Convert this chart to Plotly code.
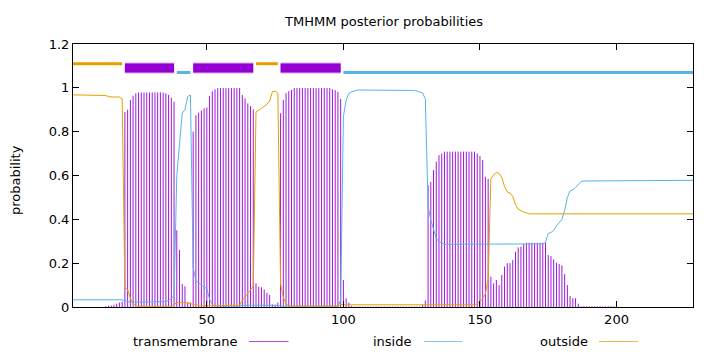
import plotly.graph_objects as go

# ---------------- data (per residue, 1..228) ----------------
transmembrane = [
    0, 0, 0, 0, 0, 0, 0, 0, 0, 0,                                        # 1-10
    0, 0, 0.003, 0.005, 0.007, 0.01, 0.015, 0.02, 0.025, 0.89,           # 11-20
    0.90, 0.944, 0.964, 0.975, 0.979, 0.979, 0.979, 0.979, 0.979, 0.979,  # 21-30
    0.979, 0.979, 0.979, 0.978, 0.975, 0.968, 0.955, 0.937, 0.35, 0.26,  # 31-40
    0.105, 0.095, 0.02, 0.02, 0.80, 0.875, 0.887, 0.897, 0.907, 0.91,   # 41-50
    0.963, 0.984, 0.993, 0.999, 0.999, 0.999, 0.999, 0.999, 0.999, 0.999,  # 51-60
    0.999, 0.999, 0.967, 0.952, 0.929, 0.917, 0.902, 0.108, 0.093, 0.09,  # 61-70
    0.08, 0.065, 0.055, 0.012, 0.01, 0.02, 0.884, 0.944, 0.976, 0.985,   # 71-80
    0.99, 0.999, 0.999, 0.999, 0.999, 0.999, 0.999, 0.999, 0.999, 0.999,  # 81-90
    0.999, 0.999, 0.999, 0.999, 0.999, 0.993, 0.99, 0.982, 0.949, 0.123,  # 91-100
    0.04, 0.02, 0.005, 0.002, 0.002, 0.002, 0.002, 0.002, 0.002, 0.002,  # 101-110
    0.002, 0.002, 0.002, 0.002, 0.002, 0.002, 0.002, 0.002, 0.002, 0.002,  # 111-120
    0.002, 0.002, 0.002, 0.002, 0.002, 0.002, 0.002, 0.002, 0.01, 0.03,  # 121-130
    0.556, 0.57, 0.625, 0.663, 0.693, 0.70, 0.709, 0.709, 0.709, 0.709,  # 131-140
    0.709, 0.709, 0.709, 0.709, 0.709, 0.709, 0.709, 0.709, 0.70, 0.689,  # 141-150
    0.67, 0.594, 0.585, 0.138, 0.108, 0.123, 0.10, 0.146, 0.184, 0.20,  # 151-160
    0.20, 0.214, 0.252, 0.272, 0.275, 0.287, 0.293, 0.293, 0.293, 0.293,  # 161-170
    0.293, 0.293, 0.293, 0.293, 0.237, 0.232, 0.217, 0.202, 0.196, 0.19,  # 171-180
    0.15, 0.10, 0.05, 0.04, 0.04, 0.015, 0.003, 0.003, 0.003, 0.003,    # 181-190
    0.003, 0.003, 0.003, 0.003, 0.003, 0.003, 0.003, 0.003, 0.003, 0.008,  # 191-200
    0, 0, 0, 0, 0, 0, 0, 0, 0, 0,                                        # 201-210
    0, 0, 0, 0, 0, 0, 0, 0, 0, 0,                                        # 211-220
    0, 0, 0, 0, 0, 0, 0, 0,                                              # 221-228
]

inside = [
    0.033, 0.033, 0.033, 0.033, 0.033, 0.033, 0.033, 0.033, 0.033, 0.033,  # 1-10
    0.033, 0.033, 0.033, 0.033, 0.033, 0.033, 0.033, 0.033, 0.033, 0.028,  # 11-20
    0.024, 0.022, 0.022, 0.022, 0.022, 0.022, 0.022, 0.022, 0.022, 0.022,  # 21-30
    0.022, 0.022, 0.022, 0.022, 0.025, 0.03, 0.04, 0.05, 0.60, 0.73,     # 31-40
    0.885, 0.90, 0.96, 0.967, 0.18, 0.12, 0.11, 0.10, 0.09, 0.085,       # 41-50
    0.035, 0.012, 0.006, 0.004, 0.004, 0.004, 0.004, 0.004, 0.004, 0.004,  # 51-60
    0.004, 0.004, 0.008, 0.008, 0.008, 0.008, 0.008, 0.008, 0.008, 0.008,  # 61-70
    0.008, 0.008, 0.008, 0.008, 0.008, 0.008, 0.004, 0.004, 0.004, 0.004,  # 71-80
    0.004, 0.004, 0.004, 0.004, 0.004, 0.004, 0.004, 0.004, 0.004, 0.004,  # 81-90
    0.004, 0.004, 0.004, 0.004, 0.004, 0.004, 0.004, 0.004, 0.03, 0.868,  # 91-100
    0.944, 0.975, 0.982, 0.987, 0.99, 0.99, 0.99, 0.99, 0.99, 0.99,      # 101-110
    0.99, 0.99, 0.99, 0.99, 0.99, 0.99, 0.99, 0.99, 0.99, 0.99,          # 111-120
    0.99, 0.99, 0.99, 0.99, 0.99, 0.988, 0.985, 0.982, 0.976, 0.95,      # 121-130
    0.458, 0.397, 0.351, 0.313, 0.298, 0.29, 0.286, 0.286, 0.286, 0.286,  # 131-140
    0.286, 0.286, 0.286, 0.286, 0.286, 0.286, 0.286, 0.286, 0.286, 0.286,  # 141-150
    0.286, 0.286, 0.286, 0.286, 0.286, 0.286, 0.286, 0.286, 0.286, 0.286,  # 151-160
    0.286, 0.286, 0.286, 0.286, 0.286, 0.286, 0.286, 0.286, 0.286, 0.286,  # 161-170
    0.286, 0.286, 0.288, 0.295, 0.335, 0.34, 0.35, 0.37, 0.385, 0.40,    # 171-180
    0.44, 0.50, 0.53, 0.535, 0.545, 0.56, 0.572, 0.575, 0.575, 0.575,    # 181-190
    0.575, 0.575, 0.575, 0.575, 0.575, 0.575, 0.575, 0.575, 0.575, 0.575,  # 191-200
    0.576, 0.576, 0.576, 0.576, 0.576, 0.576, 0.576, 0.576, 0.576, 0.576,  # 201-210
    0.577, 0.577, 0.577, 0.577, 0.577, 0.577, 0.577, 0.577, 0.577, 0.577,  # 211-220
    0.578, 0.578, 0.578, 0.578, 0.578, 0.578, 0.578, 0.578,              # 221-228
]

outside = [
    0.968, 0.968, 0.968, 0.968, 0.968, 0.968, 0.968, 0.968, 0.968, 0.968,  # 1-10
    0.968, 0.968, 0.965, 0.96, 0.958, 0.958, 0.958, 0.958, 0.95, 0.087,  # 11-20
    0.078, 0.04, 0.015, 0.006, 0.003, 0.003, 0.003, 0.003, 0.003, 0.003,  # 21-30
    0.003, 0.003, 0.003, 0.003, 0.003, 0.003, 0.003, 0.012, 0.02, 0.02,  # 31-40
    0.02, 0.02, 0.02, 0.015, 0.012, 0.008, 0.005, 0.005, 0.005, 0.005,  # 41-50
    0.005, 0.005, 0.005, 0.005, 0.005, 0.005, 0.005, 0.005, 0.005, 0.005,  # 51-60
    0.005, 0.008, 0.03, 0.045, 0.065, 0.08, 0.095, 0.89, 0.90, 0.906,   # 61-70
    0.915, 0.925, 0.94, 0.982, 0.985, 0.975, 0.105, 0.045, 0.015, 0.006,  # 71-80
    0.004, 0.004, 0.004, 0.004, 0.004, 0.004, 0.004, 0.004, 0.004, 0.004,  # 81-90
    0.004, 0.004, 0.004, 0.004, 0.004, 0.004, 0.004, 0.004, 0.012, 0.01,  # 91-100
    0.01, 0.01, 0.01, 0.01, 0.01, 0.01, 0.01, 0.01, 0.01, 0.01,          # 101-110
    0.01, 0.01, 0.01, 0.01, 0.01, 0.01, 0.01, 0.01, 0.01, 0.01,          # 111-120
    0.01, 0.01, 0.01, 0.01, 0.01, 0.01, 0.01, 0.01, 0.01, 0.01,          # 121-130
    0.01, 0.01, 0.01, 0.01, 0.01, 0.01, 0.01, 0.01, 0.01, 0.01,          # 131-140
    0.01, 0.01, 0.01, 0.01, 0.01, 0.01, 0.01, 0.01, 0.015, 0.025,        # 141-150
    0.04, 0.06, 0.13, 0.585, 0.603, 0.614, 0.61, 0.59, 0.55, 0.525,      # 151-160
    0.52, 0.505, 0.467, 0.446, 0.44, 0.433, 0.43, 0.425, 0.425, 0.425,   # 161-170
    0.425, 0.425, 0.425, 0.425, 0.425, 0.425, 0.425, 0.425, 0.425, 0.425,  # 171-180
    0.425, 0.425, 0.425, 0.425, 0.425, 0.425, 0.425, 0.425, 0.425, 0.425,  # 181-190
    0.425, 0.425, 0.425, 0.425, 0.425, 0.425, 0.425, 0.425, 0.425, 0.425,  # 191-200
    0.425, 0.425, 0.425, 0.425, 0.425, 0.425, 0.425, 0.425, 0.425, 0.425,  # 201-210
    0.425, 0.425, 0.425, 0.425, 0.425, 0.425, 0.425, 0.425, 0.425, 0.425,  # 211-220
    0.425, 0.425, 0.425, 0.425, 0.425, 0.425, 0.425, 0.425,              # 221-228
]

# predicted topology segments (start, end residue)
seg_outside_start = [1, 68]
seg_outside_end = [19, 76]
seg_tm_start = [20, 45, 77]
seg_tm_end = [38, 67, 99]
seg_inside_start = [39, 100]
seg_inside_end = [44, 228]

x_ticks = [50, 100, 150, 200]
y_ticks = [0, 0.2, 0.4, 0.6, 0.8, 1.0, 1.2]
y_tick_text = ["0", "0.2", "0.4", "0.6", "0.8", "1", "1.2"]

series_names = ["transmembrane", "inside", "outside"]

# ---------------- styling ----------------
PURPLE = "#9400D3"
BLUE = "#56B4E9"
ORANGE = "#E69F00"
FONT = "DejaVu Sans"

residues = list(range(1, len(transmembrane) + 1))

fig = go.Figure()

# impulses for transmembrane
ix, iy = [], []
for r, v in zip(residues, transmembrane):
    ix += [r, r, None]
    iy += [0, v, None]
fig.add_trace(go.Scatter(x=ix, y=iy, mode="lines",
                         line=dict(color=PURPLE, width=1), opacity=0.9,
                         hoverinfo="skip", showlegend=False))

fig.add_trace(go.Scatter(x=residues, y=inside, mode="lines",
                         line=dict(color=BLUE, width=1), showlegend=False))
fig.add_trace(go.Scatter(x=residues, y=outside, mode="lines",
                         line=dict(color=ORANGE, width=1), showlegend=False))


def seg_trace(starts, ends, level, color, width):
    sx, sy = [], []
    for s, e in zip(starts, ends):
        sx += [s, e, None]
        sy += [level, level, None]
    return go.Scatter(x=sx, y=sy, mode="lines", line=dict(color=color, width=width),
                      hoverinfo="skip", showlegend=False)


fig.add_trace(seg_trace(seg_outside_start, seg_outside_end, 1.11, ORANGE, 3))
fig.add_trace(seg_trace(seg_tm_start, seg_tm_end, 1.09, "#D9A6F0", 11))
fig.add_trace(seg_trace(seg_tm_start, seg_tm_end, 1.09, PURPLE, 9))
fig.add_trace(seg_trace(seg_inside_start, seg_inside_end, 1.07, BLUE, 3))

L, R, T, B = 73, 27, 44, 45
W, H = 720, 352
PW, PH = W - L - R, H - T - B


def px(xp):
    return (xp - L) / PW


def py(yp):
    return (H - B - yp) / PH


annotations = [
    dict(text="TMHMM posterior probabilities", x=0.5, y=py(21), xref="paper", yref="paper",
         showarrow=False, xanchor="center", yanchor="middle",
         font=dict(family=FONT, size=13, color="black")),
    dict(text="probability", x=px(15), y=py(180), xref="paper", yref="paper", textangle=-90,
         showarrow=False, xanchor="center", yanchor="middle",
         font=dict(family=FONT, size=13, color="black")),
]
shapes = []
legend_text_right = [239.5, 414, 589.5]
legend_line_x0 = [249, 424, 599]
legend_line_x1 = [288.5, 462.5, 638]
legend_colors = [PURPLE, BLUE, ORANGE]
for name, tr, x0, x1, c in zip(series_names, legend_text_right, legend_line_x0,
                               legend_line_x1, legend_colors):
    annotations.append(dict(text=name, x=px(tr), y=py(341), xref="paper", yref="paper",
                            showarrow=False, xanchor="right", yanchor="middle",
                            font=dict(family=FONT, size=13, color="black")))
    shapes.append(dict(type="line", xref="paper", yref="paper",
                       x0=px(x0), x1=px(x1), y0=py(341.5), y1=py(341.5),
                       line=dict(color=c, width=1), opacity=0.7))

fig.update_layout(
    width=W, height=H,
    margin=dict(l=L, r=R, t=T, b=B, pad=0),
    paper_bgcolor="white", plot_bgcolor="white",
    showlegend=False,
    annotations=annotations,
    shapes=shapes,
    xaxis=dict(range=[1, 228], tickvals=x_ticks, ticks="inside", ticklen=6,
               tickcolor="black", showline=True, linecolor="black", linewidth=1,
               mirror="allticks", showgrid=False, zeroline=False,
               tickfont=dict(family=FONT, size=13, color="black")),
    yaxis=dict(range=[0, 1.2], tickvals=y_ticks, ticktext=y_tick_text, ticks="inside",
               ticklen=6, tickcolor="black", showline=True, linecolor="black",
               linewidth=1, mirror="allticks", showgrid=False, zeroline=False,
               tickfont=dict(family=FONT, size=13, color="black")),
)

fig.write_html("out.html")
